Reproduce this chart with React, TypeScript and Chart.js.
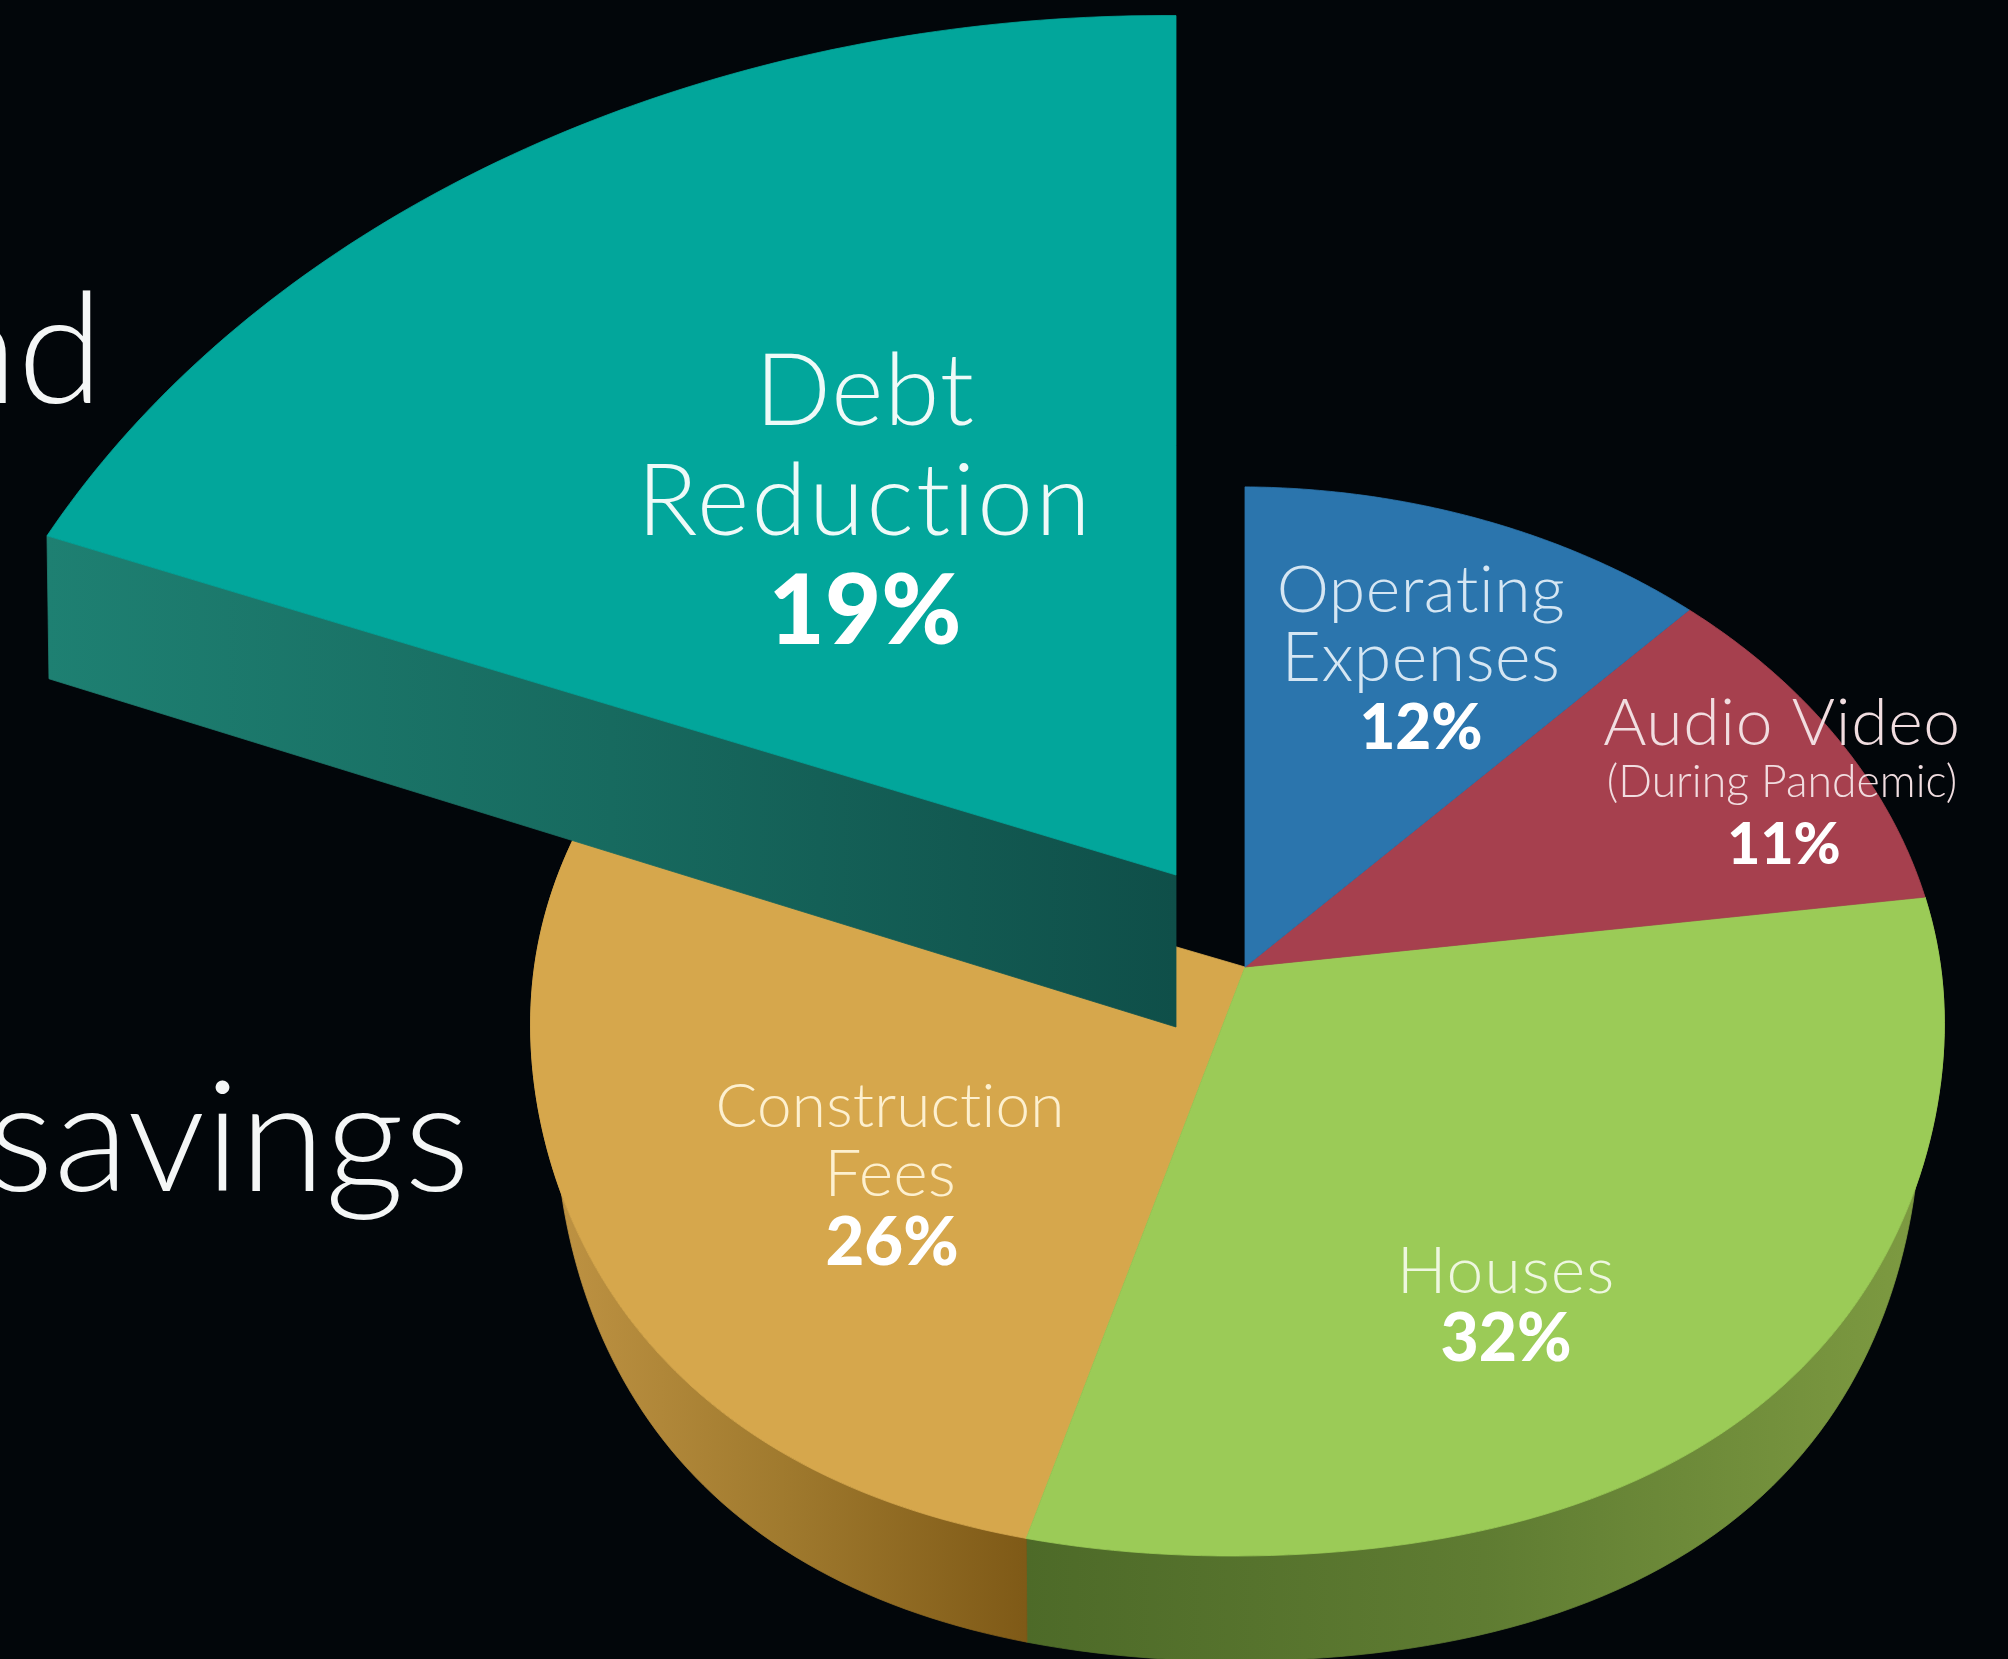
import React, { useEffect, useRef } from "react";
import { Chart, registerables } from "chart.js";

Chart.register(...registerables);

const categories = ["Operating Expenses", "Audio Video", "Houses", "Construction Fees", "Debt Reduction"];
const shares = [12, 11, 32, 26, 19];
const topColors = ["#2b75ad", "#a6404e", "#9bcb57", "#d6a74c", "#02a69b"];

const BG = "#02060a";
const CX = 1245, CY = 967, RX = 703, KY = 529, PV = 0.1018, PU = 0.0106;
const DEPTH = 105;
const WARP = (2 * Math.PI) / 180;
const BULGE = 0.04;
const DEBT = { index: 4, apexX: 1176, apexY: 875, sx: 1.775, sy: 1.79, depthL: 143, depthR: 152 };

type T = { text: string; x: number; y: number; size: number; weight: number; color: string; align?: CanvasTextAlign; gap?: number };
const F = "Lato, 'Open Sans', sans-serif";
const texts: T[] = [
  { text: "nd", x: 103, y: 403, size: 155, weight: 300, color: "#f4f6f6", align: "right" },
  { text: "savings", x: 470, y: 1191, size: 155, weight: 300, color: "#f4f6f6", align: "right" },
  { text: "Debt", x: 865, y: 425, size: 100, weight: 300, color: "#eefaf8", gap: 1 },
  { text: "Reduction", x: 865, y: 535, size: 100, weight: 300, color: "#eefaf8", gap: 2.4 },
  { text: "19%", x: 865, y: 644, size: 97, weight: 900, color: "#ffffff" },
  { text: "Operating", x: 1421, y: 612, size: 66, weight: 300, color: "#d5e6f3", gap: 0.5 },
  { text: "Expenses", x: 1421, y: 681, size: 68, weight: 300, color: "#d5e6f3", gap: 0.5 },
  { text: "12%", x: 1421, y: 749, size: 62, weight: 900, color: "#ffffff" },
  { text: "Audio Video", x: 1782, y: 745, size: 66, weight: 300, color: "#f1dde0", gap: 0.7 },
  { text: "(During Pandemic)", x: 1782, y: 797, size: 44.5, weight: 300, color: "#f1dde0" },
  { text: "11%", x: 1784, y: 864, size: 57, weight: 900, color: "#ffffff" },
  { text: "Construction", x: 890, y: 1127, size: 62, weight: 300, color: "#fdf0cf", gap: 0.2 },
  { text: "Fees", x: 890, y: 1196, size: 66, weight: 300, color: "#fdf0cf" },
  { text: "26%", x: 892, y: 1265, size: 67, weight: 900, color: "#ffffff" },
  { text: "Houses", x: 1506, y: 1293, size: 66, weight: 300, color: "#eef7df", gap: 1 },
  { text: "32%", x: 1506, y: 1361, size: 66, weight: 900, color: "#ffffff" },
];

// Camera: a tilted disc in perspective, with a slight lens correction on the main pie
const proj = (angle: number, ox: number, oy: number, sx: number, sy: number, lens: boolean) => {
  const th = angle + Math.PI / 2;
  const a = lens ? angle - WARP * Math.abs(Math.sin(th / 2)) ** 3 : angle;
  const u = Math.cos(a), v = Math.sin(a);
  const w = 1 - PV * v + PU * u;
  const b = lens ? 1 + BULGE * Math.max(0, v) * Math.sin(2 * a) ** 2 : 1;
  return [ox + (b * sx * RX * u) / w, oy + (b * sy * KY * v) / w];
};

const perspectivePie = {
  id: "perspectivePie",
  beforeDatasetsDraw(chart: any) {
    const ctx: CanvasRenderingContext2D = chart.ctx;
    const arcs = chart.getDatasetMeta(0).data;
    const N = 90;
    const angleAt = (arc: any, i: number) => arc.startAngle + ((arc.endAngle - arc.startAngle) * i) / N;
    const sample = (arc: any, ox: number, oy: number, sx: number, sy: number, lens: boolean) => {
      const pts: number[][] = [];
      for (let i = 0; i <= N; i++) pts.push(proj(angleAt(arc, i), ox, oy, sx, sy, lens));
      return pts;
    };
    const poly = (pts: number[][], fill: any) => {
      ctx.beginPath();
      pts.forEach((p, i) => (i ? ctx.lineTo(p[0], p[1]) : ctx.moveTo(p[0], p[1])));
      ctx.closePath();
      ctx.fillStyle = fill;
      ctx.strokeStyle = fill;
      ctx.lineWidth = 0.8;
      ctx.fill();
      ctx.stroke();
    };
    const grad = (x0: number, x1: number, c0: string, c1: string, cm?: string) => {
      const g = ctx.createLinearGradient(x0, 0, x1, 0);
      g.addColorStop(0, c0);
      if (cm) g.addColorStop(0.5, cm);
      g.addColorStop(1, c1);
      return g;
    };

    // side walls of the main pie: the lower disc sits further from the camera
    const rim = (arc: any, fill: any) => {
      const top = sample(arc, CX, CY, 1, 1, true);
      const low = top
        .map((p, i) => {
          const a = angleAt(arc, i);
          const u = Math.cos(a), v = Math.sin(a);
          return [CX + (p[0] - CX) * (1 - 0.035 * u * u), p[1] + DEPTH * (0.75 + 0.25 * v)];
        })
        .reverse();
      poly([...top, ...low], fill);
    };
    rim(arcs[2], grad(1024, 1944, "#4d6a28", "#7f9c42", "#5f7c32"));
    rim(arcs[3], grad(540, 1024, "#c09444", "#7f5a17", "#a07a2e"));

    // top faces of the main pie
    [3, 2, 1, 0].forEach((i) => {
      poly([[CX, CY], ...sample(arcs[i], CX, CY, 1, 1, true)], arcs[i].options.backgroundColor);
    });

    // exploded slice
    const d = arcs[DEBT.index];
    const corner = proj(d.startAngle, DEBT.apexX, DEBT.apexY, DEBT.sx, DEBT.sy, false);
    poly(
      [
        corner,
        [DEBT.apexX, DEBT.apexY],
        [DEBT.apexX, DEBT.apexY + DEBT.depthR],
        [corner[0] + 2, corner[1] + DEBT.depthL],
      ],
      grad(corner[0], DEBT.apexX, "#1e8072", "#0f4f49", "#176a5f"),
    );
    poly([[DEBT.apexX, DEBT.apexY], ...sample(d, DEBT.apexX, DEBT.apexY, DEBT.sx, DEBT.sy, false)], d.options.backgroundColor);

    // labels
    ctx.textBaseline = "alphabetic";
    (ctx as any).textRendering = "optimizeSpeed";
    texts.forEach((t) => {
      ctx.font = `${t.weight} ${t.size}px ${F}`;
      (ctx as any).letterSpacing = `${t.gap ?? 0.01}px`;
      ctx.textAlign = t.align ?? "center";
      ctx.fillStyle = t.color;
      ctx.fillText(t.text, t.x, t.y);
    });
    return false;
  },
};

export default function App() {
  const ref = useRef<HTMLCanvasElement>(null);
  useEffect(() => {
    document.body.style.margin = "0";
    document.body.style.background = BG;
    const chart = new Chart(ref.current!, {
      type: "doughnut",
      data: {
        labels: categories,
        datasets: [{ data: shares, backgroundColor: topColors, borderWidth: 0 }],
      },
      options: {
        responsive: false,
        animation: false,
        cutout: 0,
        plugins: { legend: { display: false }, tooltip: { enabled: false } },
      },
      plugins: [perspectivePie],
    } as any);
    return () => chart.destroy();
  }, []);
  return (
    <canvas
      ref={ref}
      width={2008}
      height={1659}
      style={{ display: "block", width: 2008, height: 1659, background: BG }}
    />
  );
}
